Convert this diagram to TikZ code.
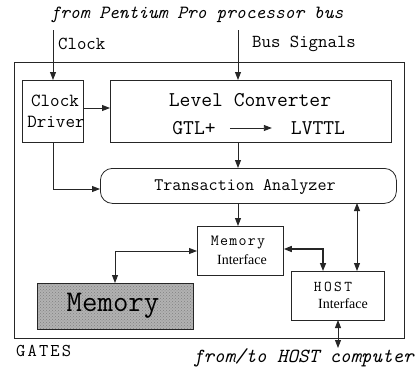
\documentclass[tikz,border=0pt]{standalone}
\usepackage{fontspec}
\setmonofont{Latin Modern Mono}
\newfontfamily\serifl{Liberation Serif}
\usetikzlibrary{arrows.meta,patterns}
\newcommand{\tts}[1]{\ttfamily\fontsize{#1}{#1}\selectfont}
\tikzset{
  box/.style={draw=black!85,line width=0.8pt,inner sep=0pt},
  conn/.style={draw=black!85,line width=0.9pt,-{Triangle[length=8pt,width=6pt]}},
  dconn/.style={draw=black!85,line width=0.9pt,{Triangle[length=8pt,width=6pt]}-{Triangle[length=8pt,width=6pt]}},
  lbl/.style={inner sep=0pt},
}
\begin{document}
\begin{tikzpicture}[x=1pt,y=-1pt]
\useasboundingbox (0,0) rectangle (418,372);
% outer box
\node[box,minimum width=390pt,minimum height=276pt,anchor=north west] (gates) at (14,62) {};
% boxes
\node[box,minimum width=61pt,minimum height=62pt,anchor=north west] (cd) at (22,80) {};
\node[lbl,font=\tts{18.5}] (cdt1) at (55,101) {Clock};
\node[lbl,font=\tts{18.5}] (cdt2) at (56,122) {Driver};
\node[box,minimum width=281pt,minimum height=62pt,anchor=north west] (lc) at (110,80) {};
\node[lbl,font=\tts{21}] (lct) at (250,100) {Level Converter};
\node[lbl,font=\tts{21}] (gtl) at (194,128) {GTL+};
\node[lbl,font=\tts{21}] (lvttl) at (318,128) {LVTTL};
\node[box,rounded corners=12pt,minimum width=296pt,minimum height=35pt,anchor=north west] (ta) at (100,168) {};
\node[lbl,font=\tts{17.6}] (tat) at (245,187) {Transaction Analyzer};
\node[box,minimum width=86pt,minimum height=49pt,anchor=north west] (mi) at (197,226) {};
\node[lbl,font={\tts{15.5}\addfontfeature{LetterSpace=8}}] (mit1) at (238,243) {Memory};
\node[lbl,font=\serifl\fontsize{14}{16}\selectfont] (mit2) at (242,260) {Interface};
\node[box,minimum width=93pt,minimum height=49pt,anchor=north west] (hi) at (291,271) {};
\node[lbl,font={\tts{15}\addfontfeature{LetterSpace=16}}] (hit1) at (333,287) {HOST};
\node[lbl,font=\serifl\fontsize{14}{16}\selectfont] (hit2) at (343,304) {Interface};
\node[box,fill=black!30,minimum width=156pt,minimum height=46pt,anchor=north west] (mem) at (37,283) {};
\fill[pattern=crosshatch dots,pattern color=black!50] (mem.south west) rectangle (mem.north east);
\draw[black!85,line width=0.8pt] (mem.south west) rectangle (mem.north east);
\node[lbl,font=\tts{30}] (memt) at (113,306) {Memory};
% texts
\node[lbl,font=\ttfamily\itshape\fontsize{18.6}{19}\selectfont] (pp) at (197,15) {from Pentium Pro processor bus};
\node[lbl,anchor=west,font=\tts{18.3}] (clk) at (58,44) {Clock};
\node[lbl,anchor=west,font=\tts{18.3}] (bus) at (252,44) {Bus Signals};
\node[lbl,anchor=west,font={\tts{18}\addfontfeature{LetterSpace=12}}] (gt) at (16,351) {GATES};
\node[lbl,anchor=west,font=\ttfamily\itshape\fontsize{20}{20}\selectfont] (ft) at (193,358) {from/to HOST computer};
% coordinates
\coordinate (clkin) at (53,30);
\coordinate (busin) at (238,30);
\coordinate (hostout) at (338,348);
% connectors
\draw[conn] (clkin) -- (clkin |- cd.north);
\draw[conn] (busin) -- (busin |- lc.north);
\draw[conn] (cd.east |- 0,108) -- (lc.west |- 0,108);
\draw[conn] (gtl.east) ++(14,0) coordinate (ga) -- ++(42,0) coordinate (gb);
\draw[conn] (238,142) -- (238,168);
\draw[conn] (53,142) |- (ta.west |- 0,189);
\draw[conn] (238,203) -- (238,226);
\draw[dconn] (357,203) -- (357,271);
\draw[dconn] (mi.west |- 0,251) -| (115,283);
\draw[dconn,line width=1.4pt] (mi.east |- 0,249) -| (323,271);
\draw[dconn] (338,320) -- (hostout);
\end{tikzpicture}
\end{document}
